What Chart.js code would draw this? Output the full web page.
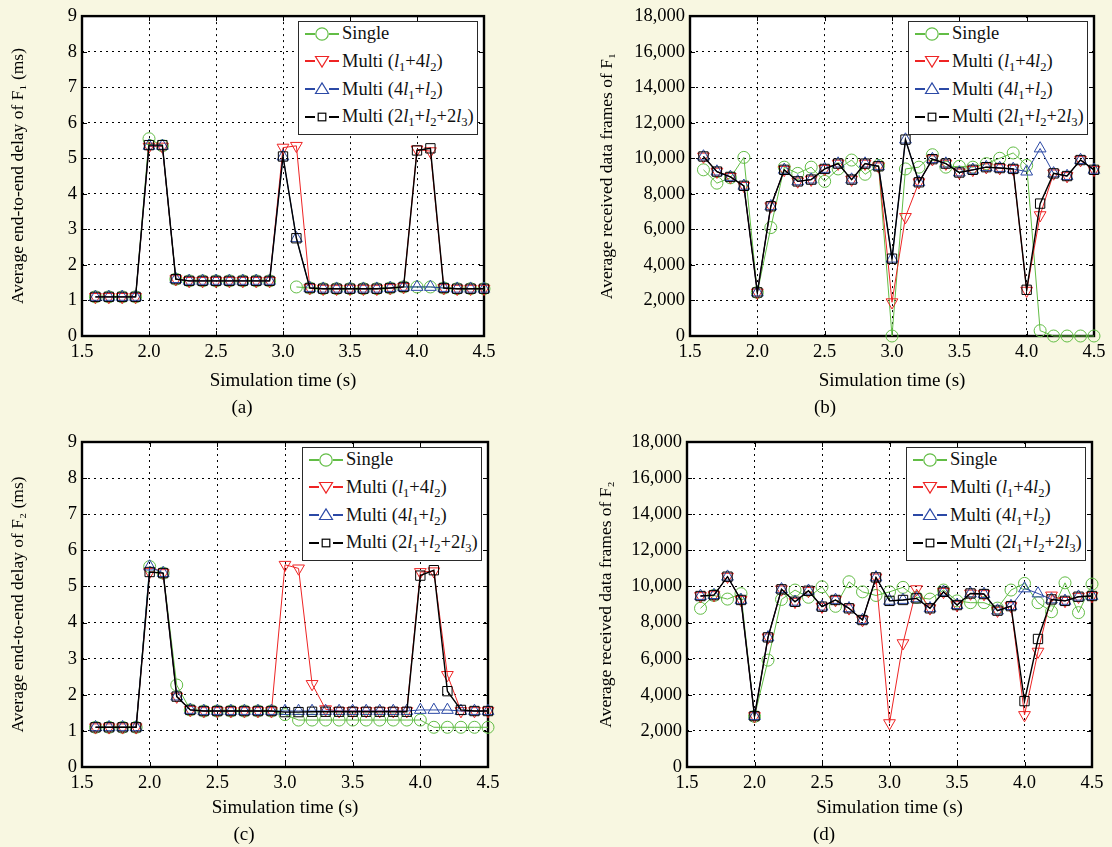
<!DOCTYPE html>
<html>
<head>
<meta charset="utf-8">
<title>Delay and received frames</title>
<script src="https://cdn.jsdelivr.net/npm/chart.js@4.4.1/dist/chart.umd.min.js"></script>
<style>
  html, body { margin: 0; padding: 0; background: #f8f7e1; }
  #page { position: relative; width: 1112px; height: 847px; overflow: hidden;
          font-family: "Liberation Serif", "Times New Roman", serif; }
  .legend { position: absolute; background: #fff; border: 1.5px solid #2a2a2a; box-sizing: border-box;
            font-size: 18.5px; color: #111; }
  .legend .row { position: absolute; left: 0; height: 24px; display: flex; align-items: center; white-space: nowrap; }
  .legend svg { margin-left: 5px; margin-right: 2px; }
  .legend sub { font-size: 0.68em; vertical-align: -0.3em; line-height: 0; }
</style>
</head>
<body>
<div id="page"></div>
<script>
// ── Data ───────────────────────────────────────────────────────────
const simTimes = [1.6, 1.7, 1.8, 1.9, 2.0, 2.1, 2.2, 2.3, 2.4, 2.5, 2.6, 2.7, 2.8, 2.9, 3.0,
                  3.1, 3.2, 3.3, 3.4, 3.5, 3.6, 3.7, 3.8, 3.9, 4.0, 4.1, 4.2, 4.3, 4.4, 4.5];

const timeTicks = [1.5, 2.0, 2.5, 3.0, 3.5, 4.0, 4.5];
const delayTicks = [0, 1, 2, 3, 4, 5, 6, 7, 8, 9];
const frameTicks = [0, 2000, 4000, 6000, 8000, 10000, 12000, 14000, 16000, 18000];

const seriesNames = [
  'Single',
  'Multi (<i>l</i><sub>1</sub>+4<i>l</i><sub>2</sub>)',
  'Multi (4<i>l</i><sub>1</sub>+<i>l</i><sub>2</sub>)',
  'Multi (2<i>l</i><sub>1</sub>+<i>l</i><sub>2</sub>+2<i>l</i><sub>3</sub>)'
];

// (a) average end-to-end delay of F1 (ms)
const delayF1Single = [1.1, 1.1, 1.1, 1.1, 5.55, 5.35, 1.6, 1.55, 1.55, 1.55, 1.55, 1.55, 1.55, 1.55, null,
                       1.38, 1.35, 1.33, 1.33, 1.33, 1.33, 1.33, 1.35, 1.38, 1.38, 1.38, 1.35, 1.33, 1.33, 1.33];
const delayF1L14 = [1.1, 1.1, 1.1, 1.1, 5.33, 5.33, 1.6, 1.55, 1.55, 1.55, 1.55, 1.55, 1.55, 1.55, 5.3,
                    5.35, 1.35, 1.33, 1.33, 1.33, 1.33, 1.33, 1.35, 1.38, 5.25, 5.2, 1.35, 1.33, 1.33, 1.33];
const delayF1L41 = [1.1, 1.1, 1.1, 1.1, 5.35, 5.35, 1.6, 1.55, 1.55, 1.55, 1.55, 1.55, 1.55, 1.55, 5.05,
                    2.75, 1.35, 1.33, 1.33, 1.33, 1.33, 1.33, 1.35, 1.38, 1.38, 1.38, 1.35, 1.33, 1.33, 1.33];
const delayF1L212 = [1.1, 1.1, 1.1, 1.1, 5.37, 5.37, 1.6, 1.55, 1.55, 1.55, 1.55, 1.55, 1.55, 1.55, 5.05,
                     2.75, 1.35, 1.33, 1.33, 1.33, 1.33, 1.33, 1.35, 1.38, 5.22, 5.28, 1.35, 1.33, 1.33, 1.33];

// (b) average received data frames of F1
const framesF1Single = [9350, 8600, 8900, 10050, 2450, 6100, 9500, 9150, 9500, 8700, 9400, 9900, 9100, 9600, 0,
                        9400, 9500, 10200, 9500, 9550, 9500, 9700, 10000, 10300, 9600, 300, 0, 0, 0, 0];
const framesF1L14 = [10100, 9250, 8950, 8450, 2450, 7300, 9350, 8700, 8800, 9400, 9700, 8800, 9700, 9550, 1900,
                     6700, 8650, 9950, 9700, 9200, 9350, 9500, 9450, 9400, 2550, 6800, 9150, 9000, 9900, 9350];
const framesF1L41 = [10100, 9250, 8950, 8450, 2450, 7300, 9350, 8700, 8800, 9400, 9700, 8800, 9700, 9550, 4350,
                     11050, 8650, 9950, 9700, 9200, 9350, 9500, 9450, 9400, 9250, 10550, 9150, 9000, 9900, 9350];
const framesF1L212 = [10100, 9250, 8950, 8450, 2450, 7300, 9350, 8700, 8800, 9400, 9700, 8800, 9700, 9550, 4350,
                      11050, 8650, 9950, 9700, 9200, 9350, 9500, 9450, 9400, 2600, 7450, 9150, 9000, 9900, 9350];

// (c) average end-to-end delay of F2 (ms)
const delayF2Single = [1.1, 1.1, 1.1, 1.1, 5.55, 5.37, 2.27, 1.58, 1.55, 1.55, 1.55, 1.55, 1.55, 1.55, 1.45,
                       1.3, 1.3, 1.3, 1.3, 1.3, 1.3, 1.3, 1.3, 1.3, 1.3, 1.1, 1.1, 1.1, 1.1, 1.1];
const delayF2L14 = [1.1, 1.1, 1.1, 1.1, 5.4, 5.37, 1.95, 1.58, 1.55, 1.55, 1.55, 1.55, 1.55, 1.55, 5.6,
                    5.5, 2.3, 1.6, 1.55, 1.55, 1.55, 1.55, 1.55, 1.55, 5.4, 5.42, 2.55, 1.55, 1.55, 1.55];
const delayF2L41 = [1.1, 1.1, 1.1, 1.1, 5.55, 5.37, 1.95, 1.58, 1.55, 1.55, 1.55, 1.55, 1.55, 1.55, 1.55,
                    1.55, 1.55, 1.55, 1.55, 1.55, 1.55, 1.55, 1.55, 1.55, 1.58, 1.58, 1.58, 1.55, 1.55, 1.55];
const delayF2L212 = [1.1, 1.1, 1.1, 1.1, 5.4, 5.37, 1.95, 1.58, 1.55, 1.55, 1.55, 1.55, 1.55, 1.55, 1.52,
                     1.52, 1.53, 1.53, 1.53, 1.53, 1.53, 1.53, 1.53, 1.53, 5.3, 5.45, 2.1, 1.58, 1.55, 1.55];

// (d) average received data frames of F2
const framesF2Single = [8790, 9500, 9300, 9600, 2800, 5920, 9280, 9800, 9400, 9980, 8900, 10260, 9700, 9500, 9700,
                        9950, 9400, 9300, 9800, 9200, 9100, 9100, 8800, 9800, 10170, 9100, 8600, 10200, 8550, 10130];
const framesF2L14 = [9470, 9520, 10540, 9250, 2820, 7180, 9840, 9150, 9760, 8880, 9250, 8790, 8140, 10500, 2430,
                     6860, 9850, 8790, 9700, 8970, 9610, 9580, 8660, 8910, 2880, 6390, 9500, 9200, 9430, 9470];
const framesF2L41 = [9470, 9520, 10540, 9250, 2820, 7180, 9840, 9150, 9760, 8880, 9250, 8790, 8140, 10500, 9200,
                     9250, 9340, 8790, 9700, 8970, 9610, 9580, 8660, 8910, 9890, 9610, 9280, 9200, 9430, 9470];
const framesF2L212 = [9470, 9520, 10540, 9250, 2820, 7180, 9840, 9150, 9760, 8880, 9250, 8790, 8140, 10500, 9200,
                      9250, 9340, 8790, 9700, 8970, 9610, 9580, 8660, 8910, 3650, 7090, 9280, 9200, 9430, 9470];

// ── Styles ─────────────────────────────────────────────────────────
const FONT = '"Liberation Serif", "Times New Roman", serif';
const TICK_FS = 18.5;
const XTITLE_FS = 19;
const YTITLE_FS = 17.5;
const lineH = function (size) { return size * 1.2; };

// order: lower is drawn on top (black on top, green underneath)
const seriesStyles = [
  { color: '#62bd45', marker: 'circle',   rotation: 0,   radius: 6,   width: 1,   order: 4 },
  { color: '#ee2424', marker: 'triangle', rotation: 180, radius: 6.8, width: 1,   order: 3 },
  { color: '#2b49a6', marker: 'triangle', rotation: 0,   radius: 6.8, width: 1,   order: 2 },
  { color: '#000000', marker: 'rect',     rotation: 0,   radius: 6.6, width: 1.4, order: 1 }
];

const panels = [
  { caption: '(a)', yTitle: 'Average end-to-end delay of F\u2081 (ms)', yTicks: delayTicks,
    values: [delayF1Single, delayF1L14, delayF1L41, delayF1L212],
    left: 0, top: 0, width: 556, area: { left: 82, top: 16, right: 484, bottom: 336 },
    yTitleX: 18, xTitleY: 381, captionY: 408 },
  { caption: '(b)', yTitle: 'Average received data frames of F\u2081', yTicks: frameTicks,
    values: [framesF1Single, framesF1L14, framesF1L41, framesF1L212],
    left: 556, top: 0, width: 556, area: { left: 690, top: 16, right: 1094, bottom: 336 },
    yTitleX: 607, xTitleY: 381, captionY: 408 },
  { caption: '(c)', yTitle: 'Average end-to-end delay of F\u2082 (ms)', yTicks: delayTicks,
    values: [delayF2Single, delayF2L14, delayF2L41, delayF2L212],
    left: 0, top: 424, width: 556, area: { left: 82, top: 442, right: 488, bottom: 767 },
    yTitleX: 18, xTitleY: 808, captionY: 835 },
  { caption: '(d)', yTitle: 'Average received data frames of F\u2082', yTicks: frameTicks,
    values: [framesF2Single, framesF2L14, framesF2L41, framesF2L212],
    left: 556, top: 424, width: 556, area: { left: 687, top: 442, right: 1092, bottom: 767 },
    yTitleX: 606, xTitleY: 808, captionY: 835 }
];

// ── Plot frame: white area, thick box, inward ticks ────────────────
const framePlugin = {
  id: 'frame',
  beforeDraw(chart) {
    const { ctx, chartArea: a } = chart;
    ctx.save();
    ctx.fillStyle = '#fff';
    ctx.fillRect(a.left, a.top, a.right - a.left, a.bottom - a.top);
    ctx.restore();
  },
  beforeDatasetsDraw(chart) {
    const { ctx, chartArea: a, scales } = chart;
    ctx.save();
    ctx.strokeStyle = '#000';
    ctx.lineWidth = 1;
    ctx.beginPath();
    scales.x.ticks.forEach(function (t) {
      const px = Math.round(scales.x.getPixelForValue(t.value)) + 0.5;
      ctx.moveTo(px, a.bottom); ctx.lineTo(px, a.bottom - 5);
      ctx.moveTo(px, a.top); ctx.lineTo(px, a.top + 5);
    });
    scales.y.ticks.forEach(function (t) {
      const py = Math.round(scales.y.getPixelForValue(t.value)) + 0.5;
      ctx.moveTo(a.left, py); ctx.lineTo(a.left + 5, py);
      ctx.moveTo(a.right, py); ctx.lineTo(a.right - 5, py);
    });
    ctx.stroke();
    ctx.lineWidth = 2.4;
    ctx.strokeRect(a.left, a.top, a.right - a.left, a.bottom - a.top);
    ctx.restore();
  }
};

const page = document.getElementById('page');

function makeChart(p) {
  const a = p.area;
  const xScaleH = p.xTitleY + lineH(XTITLE_FS) / 2 - a.bottom;
  const capPadTop = p.captionY - p.xTitleY - lineH(XTITLE_FS) / 2 - lineH(XTITLE_FS) / 2;
  const capH = lineH(XTITLE_FS) + capPadTop + 2;
  const height = Math.ceil((a.bottom - p.top) + xScaleH + capH + 2);

  const canvas = document.createElement('canvas');
  canvas.width = p.width;
  canvas.height = height;
  canvas.style.cssText = 'position:absolute;left:' + p.left + 'px;top:' + p.top + 'px;width:' +
    p.width + 'px;height:' + height + 'px;';
  page.appendChild(canvas);

  const tickFont = { family: FONT, size: TICK_FS };
  const gridOpts = { color: '#000', lineWidth: 1, drawTicks: false };
  const borderOpts = { display: false, dash: [2, 4] };

  new Chart(canvas, {
    type: 'line',
    data: {
      datasets: seriesStyles.map(function (s, i) {
        return {
          label: seriesNames[i],
          data: simTimes.map(function (t, k) { return { x: t, y: p.values[i][k] }; }),
          borderColor: s.color,
          borderWidth: s.width,
          pointStyle: s.marker,
          rotation: s.rotation,
          pointRadius: s.radius,
          pointBorderColor: s.color,
          pointBackgroundColor: 'rgba(0,0,0,0)',
          pointBorderWidth: 1,
          order: s.order,
          tension: 0,
          clip: false,
          spanGaps: false
        };
      })
    },
    options: {
      responsive: false,
      animation: false,
      devicePixelRatio: 1,
      layout: {
        padding: {
          left: 0,
          top: a.top - p.top,
          right: p.left + p.width - a.right,
          bottom: height - (a.bottom - p.top) - xScaleH - capH
        }
      },
      plugins: {
        legend: { display: false },
        tooltip: { enabled: false },
        title: {
          display: true, position: 'bottom', text: p.caption, color: '#000',
          font: { family: FONT, size: XTITLE_FS, weight: 'normal' },
          padding: { top: capPadTop, bottom: 2 }
        }
      },
      scales: {
        x: {
          type: 'linear', min: 1.5, max: 4.5,
          afterBuildTicks: function (s) { s.ticks = timeTicks.map(function (v) { return { value: v }; }); },
          afterFit: function (s) { s.height = xScaleH; },
          ticks: { color: '#000', font: tickFont, padding: 5, maxRotation: 0, autoSkip: false,
                   callback: function (v) { return Number(v).toFixed(1); } },
          grid: gridOpts,
          border: borderOpts,
          title: { display: true, text: 'Simulation time (s)', color: '#000',
                   font: { family: FONT, size: XTITLE_FS }, padding: { top: 0, bottom: 0 } }
        },
        y: {
          type: 'linear', min: 0, max: p.yTicks[p.yTicks.length - 1],
          afterBuildTicks: function (s) { s.ticks = p.yTicks.map(function (v) { return { value: v }; }); },
          afterFit: function (s) { s.width = a.left - p.left; },
          ticks: { color: '#000', font: tickFont, padding: 5, autoSkip: false,
                   callback: function (v) { return Number(v).toLocaleString('en-US'); } },
          grid: gridOpts,
          border: borderOpts,
          title: { display: true, text: p.yTitle, color: '#000', font: { family: FONT, size: YTITLE_FS },
                   padding: { top: p.yTitleX - p.left - lineH(YTITLE_FS) / 2, bottom: 0 } }
        }
      }
    },
    plugins: [framePlugin]
  });
}

// ── Legend (HTML, sits inside the plot's upper right) ──────────────
function markerSvg(s) {
  const c = 18, m = 12;
  let shape = '';
  const st = 'fill="none" stroke="' + s.color + '" stroke-width="1.2"';
  if (s.marker === 'circle') {
    shape = '<circle cx="' + c + '" cy="' + m + '" r="6.2" ' + st + '/>';
  } else if (s.marker === 'triangle' && s.rotation === 180) {
    shape = '<polygon points="' + (c - 6.5) + ',' + (m - 4.5) + ' ' + (c + 6.5) + ',' + (m - 4.5) + ' ' +
      c + ',' + (m + 6) + '" ' + st + '/>';
  } else if (s.marker === 'triangle') {
    shape = '<polygon points="' + (c - 6.5) + ',' + (m + 4.5) + ' ' + (c + 6.5) + ',' + (m + 4.5) + ' ' +
      c + ',' + (m - 6) + '" ' + st + '/>';
  } else {
    shape = '<rect x="' + (c - 3.8) + '" y="' + (m - 3.8) + '" width="7.6" height="7.6" ' + st + '/>';
  }
  return '<svg width="36" height="24" viewBox="0 0 36 24">' +
    '<line x1="1" y1="' + m + '" x2="35" y2="' + m + '" stroke="' + s.color + '" stroke-width="2"/>' +
    '<rect x="' + (c - 7) + '" y="' + (m - 7) + '" width="14" height="14" fill="#fff"/>' +
    shape + '</svg>';
}

function makeLegend(p) {
  const box = document.createElement('div');
  box.className = 'legend';
  box.style.left = (p.area.right - 6 - 180) + 'px';
  box.style.top = (p.area.top + 5) + 'px';
  box.style.width = '180px';
  box.style.height = '114px';
  seriesStyles.forEach(function (s, i) {
    const row = document.createElement('div');
    row.className = 'row';
    row.style.top = (i * 27.8 - 0.5) + 'px';
    row.innerHTML = markerSvg(s) + '<span>' + seriesNames[i] + '</span>';
    box.appendChild(row);
  });
  page.appendChild(box);
}

panels.forEach(function (p) {
  makeChart(p);
  makeLegend(p);
});
</script>
</body>
</html>
